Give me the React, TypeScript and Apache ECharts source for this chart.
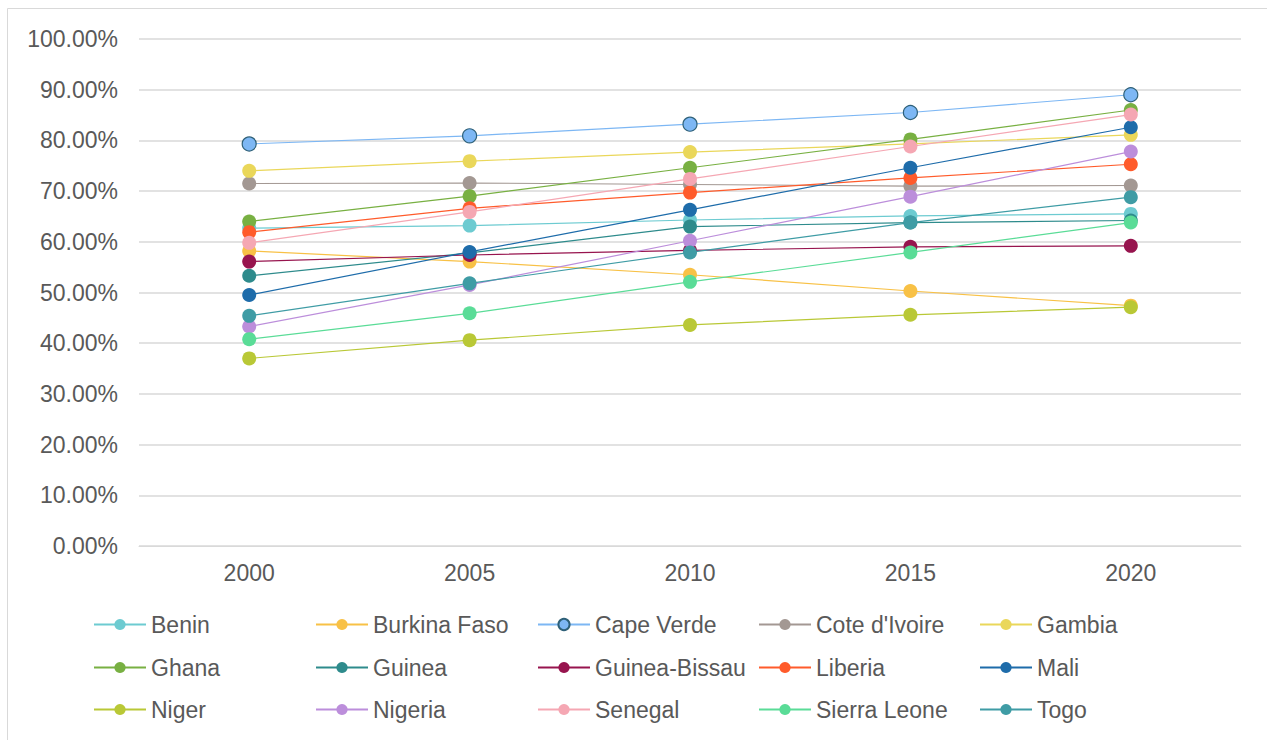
import React, { useEffect, useRef } from "react";
import * as echarts from "echarts";

const years = ["2000", "2005", "2010", "2015", "2020"];
const countries = [
  "Benin", "Burkina Faso", "Cape Verde", "Cote d'Ivoire", "Gambia",
  "Ghana", "Guinea", "Guinea-Bissau", "Liberia", "Mali",
  "Niger", "Nigeria", "Senegal", "Sierra Leone", "Togo",
];
const benin = [62.7, 63.2, 64.3, 65.1, 65.5];
const burkinaFaso = [58.2, 56.1, 53.5, 50.3, 47.4];
const capeVerde = [79.3, 80.9, 83.2, 85.5, 89.0];
const coteDIvoire = [71.5, 71.6, 71.3, 71.0, 71.1];
const gambia = [74.0, 75.9, 77.7, 79.3, 81.1];
const ghana = [64.0, 69.0, 74.6, 80.2, 86.0];
const guinea = [53.3, 57.8, 63.0, 63.8, 64.2];
const guineaBissau = [56.1, 57.4, 58.3, 59.0, 59.2];
const liberia = [61.9, 66.6, 69.7, 72.6, 75.3];
const mali = [49.5, 58.0, 66.3, 74.6, 82.6];
const niger = [37.0, 40.6, 43.6, 45.6, 47.1];
const nigeria = [43.3, 51.5, 60.2, 68.9, 77.8];
const senegal = [59.8, 65.9, 72.4, 78.8, 85.1];
const sierraLeone = [40.8, 45.9, 52.1, 57.9, 63.8];
const togo = [45.4, 51.8, 57.9, 63.8, 68.8];

const seriesValues = [
  benin, burkinaFaso, capeVerde, coteDIvoire, gambia,
  ghana, guinea, guineaBissau, liberia, mali,
  niger, nigeria, senegal, sierraLeone, togo,
];
const colors = [
  "#6DCBD1", "#F8C146", "#7DB7F4", "#A39893", "#EAD75A",
  "#78B042", "#2E8B8C", "#97144E", "#FF5B2B", "#1E6CAA",
  "#B9C836", "#BC8EDB", "#F5A7B3", "#5ADC97", "#3F9CA5",
];

const FONT = "'Liberation Sans', Arial, sans-serif";

export default function App() {
  const ref = useRef<HTMLDivElement>(null);
  useEffect(() => {
    if (!ref.current) return;
    const chart = echarts.init(ref.current, undefined, { renderer: "svg" });
    const colLeft = [93, 315, 537, 758, 979];
    const rowCenter = [625, 668, 710];
    const legends = countries.map((name, i) => ({
      data: [name],
      left: colLeft[i % 5],
      top: rowCenter[Math.floor(i / 5)] - 12,
      padding: 0,
      itemWidth: 52,
      itemHeight: 14,
      textStyle: { color: "#595959", fontSize: 23, fontFamily: FONT },
      selectedMode: false,
    }));
    chart.setOption({
      animation: false,
      textStyle: { fontFamily: FONT },
      graphic: [
        {
          type: "rect",
          shape: { x: 7.5, y: 8.5, width: 1300, height: 800 },
          style: { fill: "none", stroke: "#d9d9d9", lineWidth: 1 },
          silent: true,
        },
      ],
      grid: { left: 139, right: 26, top: 39, bottom: 194, containLabel: false },
      legend: legends,
      xAxis: {
        type: "category",
        data: years,
        boundaryGap: true,
        axisLine: { lineStyle: { color: "#d9d9d9", width: 1 } },
        axisTick: { show: false },
        axisLabel: { color: "#595959", fontSize: 23, margin: 15, fontFamily: FONT },
      },
      yAxis: {
        type: "value",
        min: 0,
        max: 100,
        interval: 10,
        axisLine: { show: false },
        axisTick: { show: false },
        splitLine: { lineStyle: { color: "#d9d9d9", width: 1.5 } },
        axisLabel: {
          color: "#595959",
          fontSize: 23,
          margin: 21,
          fontFamily: FONT,
          formatter: (v: number) => v.toFixed(2) + "%",
        },
      },
      series: countries.map((name, i) => ({
        name,
        type: "line",
        data: seriesValues[i],
        symbol: "circle",
        symbolSize: 14,
        color: colors[i],
        lineStyle: { width: 1.2, color: colors[i] },
        itemStyle:
          name === "Cape Verde"
            ? { color: colors[i], borderColor: "#2E6078", borderWidth: 1.2 }
            : { color: colors[i], borderWidth: 0 },
      })),
    });
    return () => chart.dispose();
  }, []);
  return (
    <div
      ref={ref}
      style={{ position: "fixed", left: 0, top: 0, width: 1267, height: 740, background: "#fff" }}
    />
  );
}
